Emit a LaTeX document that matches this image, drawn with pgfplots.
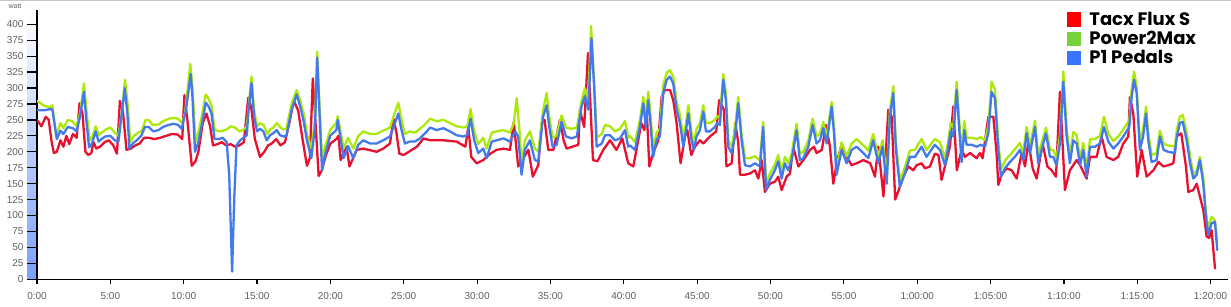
\documentclass[border=0pt]{standalone}
\usepackage{fontspec}
\setmainfont{Liberation Sans}
\newfontfamily\legfont{Poppins}
\usepackage{pgfplots}
\pgfplotsset{compat=1.18}
\definecolor{lred}{RGB}{232,16,46}
\definecolor{lgreen}{RGB}{172,232,10}
\definecolor{lblue}{RGB}{66,122,238}
\definecolor{gred}{RGB}{255,0,0}
\definecolor{ggreen}{RGB}{119,209,59}
\definecolor{gblue}{RGB}{56,118,255}
\definecolor{tickgray}{RGB}{95,95,95}
\definecolor{barblue}{RGB}{120,160,255}
\begin{document}
\begin{tikzpicture}
\path[use as bounding box] (0,0) rectangle (1231pt,307pt);
\draw[black!22, line width=1.6pt] (0,306.3pt) -- (1231pt,306.3pt);
\node[font=\fontsize{7}{8}\selectfont, text=tickgray] at (15pt,301pt) {watt};
\shade[top color=white, bottom color=barblue] (27pt,27.7pt) rectangle (37pt,296pt);
\draw[black, line width=1.4pt] (27pt,27.7pt) -- (37pt,27.7pt);
\begin{axis}[
  scale only axis,
  width=1191pt, height=269.3pt,
  at={(37pt,27.7pt)}, anchor=south west,
  xmin=0, xmax=81.19, ymin=0, ymax=422.4,
  axis x line*=bottom, axis y line*=left,
  axis line style={line width=1.4pt, black},
  tick align=outside,
  major tick length=10pt,
  tick style={black, line width=1.2pt},
  x tick style={/pgfplots/major tick length=5pt},
  xtick={0,5,...,80},
  xticklabels={0:00,5:00,10:00,15:00,20:00,25:00,30:00,35:00,40:00,45:00,50:00,55:00,1:00:00,1:05:00,1:10:00,1:15:00,1:20:00},
  ytick={0,25,...,400},
  /pgf/number format/assume math mode=true,
  tick label style={font=\fontsize{10}{12}\selectfont, text=tickgray},
  legend style={at={(axis description cs:0.8645,1.0)}, anchor=north west, draw=none, fill=none,
    font=\legfont\bfseries\fontsize{18}{20}\selectfont, row sep=0.3pt, inner sep=0pt},
  legend cell align=left,
  legend image code/.code={\fill[#1] (0pt,-7.2pt) rectangle (14.5pt,7.2pt); \path (20.5pt,0pt);},
  every axis plot/.append style={line width=2.3pt, line join=round, line cap=round},
]
\addlegendimage{fill=gred, draw=none}
\addlegendentry{Tacx Flux S}
\addlegendimage{fill=ggreen, draw=none}
\addlegendentry{Power2Max}
\addlegendimage{fill=gblue, draw=none}
\addlegendentry{P1 Pedals}

% Tacx Flux S
\addplot[lred, forget plot] coordinates {
(0,250) (0.3,240) (0.6,255) (0.8,250) (1.0,215) (1.15,198) (1.35,200) (1.6,218) (1.8,208) (2.0,225) (2.2,212) (2.45,228) (2.7,222) (2.9,276) (3.1,260) (3.3,200) (3.5,195) (3.7,198) (3.85,215) (4.05,205) (4.3,208) (4.6,215) (4.9,218) (5.2,210) (5.45,197) (5.65,280) (5.85,265) (6.1,203) (6.4,205) (6.7,210) (7.0,213) (7.3,222) (7.6,222) (8.0,220) (8.4,222) (8.8,225) (9.2,228) (9.6,227) (9.9,220) (10.05,289) (10.25,250) (10.55,178) (10.8,185) (11.0,200) (11.3,245) (11.55,260) (11.8,240) (12.0,210) (12.3,212) (12.6,215) (12.9,210) (13.2,212) (13.5,208) (13.8,210) (14.1,215) (14.4,285) (14.6,270) (14.85,220) (15.2,192) (15.5,200) (15.75,210) (16.0,213) (16.3,220) (16.6,210) (16.9,215) (17.2,245) (17.5,280) (17.8,265) (18.1,220) (18.4,178) (18.6,190) (18.8,315) (19.0,240) (19.2,162) (19.4,170) (19.7,195) (20.0,213)
(20.4,220) (20.55,225) (20.7,187) (21.1,208) (21.3,177) (21.8,203) (22.24,205) (23.15,200) (23.6,205) (24.06,213) (24.3,252) (24.5,230) (24.7,197) (25.0,195) (25.9,208) (26.35,221) (26.8,218) (27.24,218) (27.7,218) (28.6,216) (29.2,208) (29.4,239) (29.6,192) (29.97,182) (30.42,187) (30.9,197) (31.33,203) (31.8,205) (32.24,203) (32.5,247) (32.8,177) (33.15,190) (33.5,203) (33.8,161) (34.17,179) (34.4,245) (34.6,250) (34.85,203) (35.2,203) (35.65,250) (35.9,218) (36.1,205) (36.5,208) (36.9,211) (37.0,266) (37.3,239) (37.56,355) (37.9,187) (38.2,185) (38.6,203) (39.06,218) (39.5,203) (39.9,221) (40.3,182)
(40.65,177) (41.2,245) (41.4,234) (41.56,266) (41.74,177) (42.0,198) (42.35,218) (42.58,286) (42.8,297) (43.15,297) (43.37,281) (43.6,245) (43.87,182) (44.17,224) (44.33,234) (44.6,195) (44.85,208) (45.19,218) (45.42,213) (45.87,224) (46.3,232) (46.5,281) (46.82,266) (47.0,177) (47.35,182) (47.6,245) (47.8,215) (47.92,164) (48.26,164) (48.6,166) (48.94,171) (49.17,158) (49.4,187) (49.62,137) (49.96,150) (50.3,153) (50.53,161) (50.76,140) (51.1,161) (51.33,166) (51.55,208) (51.9,177) (52.24,187) (52.7,203) (52.97,208) (53.14,198) (53.5,203) (53.78,242) (54.05,208) (54.28,150) (54.55,187) (54.85,211) (55.19,192) (55.53,179) (55.87,182) (56.33,187) (56.8,182) (57.12,161) (57.35,208) (57.7,130) (58.03,266) (58.26,255) (58.5,125) (58.74,140) (59.05,161) (59.4,177) (59.73,171) (59.96,179) (60.3,182) (60.53,174) (60.87,177)
(61.2,197) (61.45,195) (61.66,156) (62.0,187) (62.23,208) (62.46,271) (62.7,171) (63.03,203) (63.26,192) (63.6,198) (64.05,190) (64.28,198) (64.46,190) (64.85,255) (65.19,255) (65.41,198) (65.53,148) (65.75,164) (66.1,174) (66.44,171) (66.78,158) (67.12,198) (67.35,177) (67.58,216) (67.87,174) (68.14,158) (68.55,213) (68.87,177) (69.16,171) (69.46,161) (69.73,294) (70.07,140) (70.41,171) (70.87,187) (71.1,179) (71.55,158) (71.78,192) (72.23,192) (72.57,224) (72.91,192) (73.37,187) (73.7,192) (74.05,213) (74.39,224) (74.5,286) (74.73,260) (75.0,161) (75.3,203) (75.64,161) (76.1,171) (76.44,184) (76.78,177) (77.12,179) (77.46,182) (77.68,224) (78.0,229) (78.32,177) (78.48,137) (78.82,140) (79.05,150) (79.5,109) (79.73,67) (79.9,65) (80.07,77) (80.3,17)
};

% Power2Max
\addplot[lgreen, forget plot] coordinates {
(0,280) (0.5,272) (0.9,270) (1.05,273) (1.3,225) (1.6,245) (1.8,237) (2.1,250) (2.4,248) (2.7,240) (2.95,262) (3.2,307) (3.4,258) (3.6,218) (3.8,225) (4.0,240) (4.2,226) (4.4,230) (4.7,235) (5.0,238) (5.3,230) (5.55,225) (5.8,265) (6.0,313) (6.2,270) (6.35,215) (6.6,225) (6.9,230) (7.15,233) (7.4,250) (7.6,250) (7.9,242) (8.3,243) (8.6,248) (9.0,252) (9.3,253) (9.6,252) (9.9,245) (10.1,262) (10.45,338) (10.6,300) (10.8,215) (11.0,230) (11.25,258) (11.5,290) (11.7,283) (11.9,272) (12.1,235) (12.4,232) (12.7,233) (13.0,236) (13.2,240) (13.5,238) (13.8,232) (14.1,235) (14.3,240) (14.45,275) (14.62,318) (14.8,265) (15.0,240) (15.2,245) (15.45,242) (15.7,228) (15.9,235) (16.1,238) (16.35,245) (16.6,238) (16.8,235) (17.0,236) (17.35,275) (17.7,297) (17.95,280) (18.2,258) (18.4,228) (18.7,205) (18.95,250) (19.1,357) (19.3,250) (19.45,180) (19.6,205) (20.0,235)
(20.4,245) (20.5,256) (20.9,205) (21.2,222) (21.56,205) (21.9,225) (22.24,232) (22.7,228) (23.15,228) (23.6,233) (24.06,238) (24.4,262) (24.63,277) (24.85,250) (25.08,228) (25.4,232) (25.76,230) (26.1,236) (26.45,243) (26.8,252) (27.24,248) (27.7,250) (28.15,245) (28.6,240) (29.06,238) (29.33,240) (29.56,267) (29.8,232) (30.08,212) (30.42,222) (30.65,205) (31.0,230) (31.33,232) (31.8,234) (32.24,230) (32.5,245) (32.7,284) (32.9,230) (33.03,180) (33.26,218) (33.6,232) (33.94,205) (34.17,200) (34.5,265) (34.74,292) (34.92,255) (35.15,222) (35.42,225) (35.76,257) (36.06,238) (36.44,236) (36.8,238) (37.12,280) (37.35,300) (37.58,280) (37.77,397) (38.0,300) (38.15,222) (38.5,228) (38.72,242) (39.06,240) (39.4,232) (39.74,236) (40.08,248) (40.3,222)
(40.42,225) (40.76,215) (41.1,250) (41.33,286) (41.5,250) (41.67,294) (41.78,268) (42.0,205) (42.24,230) (42.46,236) (42.69,305) (42.92,324) (43.15,328) (43.37,318) (43.6,278) (43.83,258) (44.06,220) (44.24,245) (44.4,273) (44.62,230) (44.78,215) (44.96,236) (45.19,245) (45.42,273) (45.6,245) (45.87,245) (46.21,250) (46.37,256) (46.55,254) (46.78,322) (46.96,292) (47.12,218) (47.35,208) (47.58,236) (47.8,286) (48.03,228) (48.26,190) (48.6,190) (48.94,193) (49.28,186) (49.5,247) (49.7,150) (49.96,166) (50.3,180) (50.53,195) (50.76,168) (50.98,192) (51.2,182) (51.44,197) (51.78,244) (52.0,197) (52.24,200) (52.58,218) (52.87,252) (53.14,224) (53.37,228) (53.6,247) (53.83,223) (54.17,278) (54.33,240) (54.5,172) (54.85,215) (55.19,193) (55.53,213) (55.87,220) (56.33,210) (56.67,202) (57.0,228) (57.35,192) (57.64,218) (57.92,160) (58.14,265) (58.37,303) (58.55,213) (58.82,155) (59.16,176) (59.5,202) (59.85,203) (60.07,212) (60.3,220) (60.64,203) (60.87,210)
(61.2,220) (61.55,215) (61.9,190) (62.12,218) (62.28,245) (62.46,238) (62.69,310) (62.87,248) (63.03,195) (63.21,248) (63.37,222) (63.71,222) (64.05,220) (64.33,223) (64.62,218) (64.85,240) (65.07,310) (65.3,298) (65.53,215) (65.71,172) (65.98,186) (66.32,195) (66.66,204) (67.0,214) (67.23,198) (67.46,239) (67.69,209) (68.03,249) (68.25,193) (68.48,214) (68.78,238) (69.05,203) (69.27,203) (69.5,190) (69.73,225) (69.96,326) (70.19,235) (70.41,193) (70.64,231) (70.87,226) (71.1,190) (71.32,214) (71.55,172) (71.78,220) (72.12,220) (72.46,225) (72.73,255) (73.03,228) (73.37,217) (73.7,224) (74.05,235) (74.27,243) (74.46,250) (74.62,298) (74.78,326) (74.96,303) (75.18,214) (75.4,236) (75.6,271) (75.75,230) (75.98,195) (76.32,198) (76.55,233) (76.8,213) (77.1,210) (77.57,208) (77.68,232) (77.9,255) (78.1,258) (78.37,230) (78.6,193) (78.82,165) (79.05,170) (79.27,192) (79.5,160) (79.68,105) (79.84,80) (80.07,98) (80.3,92) (80.45,60)
};

% P1 Pedals
\addplot[lblue, forget plot] coordinates {
(0,265) (0.5,265) (0.9,267) (1.05,266) (1.35,220) (1.6,233) (1.8,228) (2.1,239) (2.45,237) (2.7,232) (2.93,255) (3.2,294) (3.38,245) (3.55,207) (3.75,213) (4.0,232) (4.2,216) (4.4,220) (4.65,224) (5.0,225) (5.3,218) (5.55,216) (5.77,258) (5.98,300) (6.16,260) (6.3,205) (6.57,214) (6.8,218) (7.1,225) (7.36,239) (7.6,239) (7.93,232) (8.27,234) (8.6,239) (8.95,242) (9.3,244) (9.63,242) (9.86,236) (10.15,265) (10.48,322) (10.6,285) (10.77,200) (11.0,215) (11.2,238) (11.5,277) (11.7,271) (11.9,260) (12.1,220) (12.4,220) (12.66,222) (12.93,215) (13.1,165) (13.3,12) (13.45,130) (13.6,210) (13.85,218) (14.07,222) (14.3,226) (14.42,265) (14.62,308) (14.8,255) (15.0,232) (15.2,236) (15.43,232) (15.66,218) (15.89,226) (16.1,229) (16.34,234) (16.57,226) (16.8,224) (17.0,225) (17.36,266) (17.7,290) (17.93,272) (18.16,250) (18.4,218) (18.7,190) (18.95,239) (19.1,348) (19.3,238) (19.43,170) (19.6,192) (19.98,225)
(20.4,234) (20.5,250) (20.9,190) (21.2,209) (21.56,190) (21.9,211) (22.24,218) (22.7,213) (23.15,213) (23.6,218) (24.06,224) (24.4,245) (24.63,260) (24.85,234) (25.08,213) (25.4,216) (25.76,216) (26.1,221) (26.45,229) (26.8,238) (27.24,234) (27.7,237) (28.15,232) (28.6,226) (29.06,224) (29.33,226) (29.56,252) (29.8,218) (30.08,198) (30.42,205) (30.65,190) (31.0,216) (31.33,218) (31.8,221) (32.24,216) (32.6,232) (32.8,224) (33.03,164) (33.26,203) (33.6,218) (33.94,187) (34.17,185) (34.5,255) (34.74,273) (34.92,239) (35.15,208) (35.42,211) (35.76,247) (36.06,224) (36.44,221) (36.8,224) (37.12,271) (37.35,287) (37.58,266) (37.8,378) (38.0,292) (38.15,208) (38.5,213) (38.72,226) (39.06,226) (39.4,218) (39.74,221) (40.08,234) (40.3,208)
(40.42,210) (40.76,203) (41.1,239) (41.33,276) (41.5,239) (41.67,281) (41.78,255) (42.0,192) (42.24,219) (42.46,224) (42.69,292) (42.92,313) (43.15,318) (43.37,307) (43.6,266) (43.83,245) (44.06,208) (44.24,234) (44.4,260) (44.62,218) (44.78,203) (44.96,224) (45.19,234) (45.42,263) (45.6,232) (45.87,232) (46.21,239) (46.37,245) (46.55,242) (46.78,313) (46.96,281) (47.12,208) (47.35,198) (47.58,224) (47.8,276) (48.03,218) (48.26,179) (48.6,177) (48.94,182) (49.28,177) (49.5,239) (49.7,140) (49.96,156) (50.3,171) (50.53,185) (50.76,158) (50.98,182) (51.2,171) (51.44,187) (51.78,234) (52.0,187) (52.24,190) (52.58,208) (52.87,242) (53.14,213) (53.37,218) (53.6,237) (53.83,213) (54.17,271) (54.33,229) (54.5,164) (54.85,203) (55.19,182) (55.53,203) (55.87,208) (56.33,198) (56.67,190) (57.0,218) (57.35,182) (57.64,208) (57.92,150) (58.14,255) (58.37,292) (58.55,203) (58.82,145) (59.16,166) (59.5,192) (59.85,192) (60.07,200) (60.3,208) (60.64,192) (60.87,200)
(61.2,211) (61.55,203) (61.9,179) (62.12,208) (62.28,232) (62.46,224) (62.69,297) (62.87,234) (63.03,184) (63.21,234) (63.37,211) (63.71,211) (64.05,208) (64.33,211) (64.62,208) (64.85,229) (65.07,294) (65.3,284) (65.53,203) (65.71,161) (65.98,174) (66.32,184) (66.66,192) (67.0,203) (67.23,187) (67.46,229) (67.69,198) (68.03,239) (68.25,182) (68.48,203) (68.78,229) (69.05,192) (69.27,192) (69.5,179) (69.73,213) (69.96,310) (70.19,224) (70.41,182) (70.64,218) (70.87,213) (71.1,179) (71.32,203) (71.55,161) (71.78,208) (72.12,208) (72.46,213) (72.73,239) (73.03,216) (73.37,205) (73.7,213) (74.05,224) (74.27,232) (74.46,239) (74.62,286) (74.78,313) (74.96,292) (75.18,203) (75.4,224) (75.6,260) (75.75,218) (75.98,184) (76.32,187) (76.55,224) (76.8,203) (77.1,200) (77.57,198) (77.68,221) (77.9,245) (78.1,247) (78.37,218) (78.6,182) (78.82,158) (79.05,164) (79.27,187) (79.5,150) (79.68,98) (79.84,70) (80.07,88) (80.3,90) (80.45,46)
};
\end{axis}
\end{tikzpicture}
\end{document}
